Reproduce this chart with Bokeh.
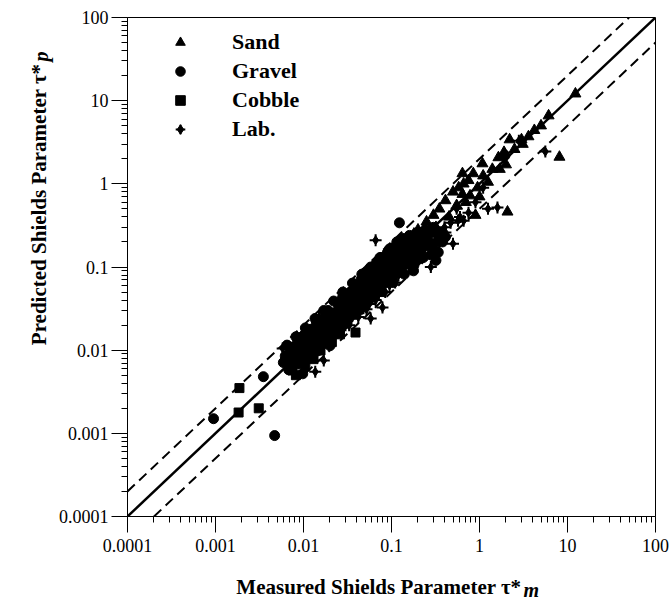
import math
from bokeh.plotting import figure
from bokeh.models import FixedTicker, CustomJSTickFormatter, Legend, LegendItem, Label
from bokeh.embed import file_html
from bokeh.resources import INLINE

# decade ticks shared by both log axes
tick_values = [0.0001, 0.001, 0.01, 0.1, 1, 10, 100]
axis_bounds = [0.0001, 100]

# Sand (triangles)
sand_x = [12.3, 6.1, 5.0, 8.1, 2.08, 0.9, 2.2, 3.0, 3.1, 1.64, 1.08, 0.64, 0.85, 1.1,
          0.66, 0.95, 0.64, 0.41, 1.0, 3.6, 2.5, 2.0, 1.4, 1.25, 0.78, 0.55, 0.5, 0.45,
          0.35, 0.3, 0.25, 0.2, 0.17, 0.15, 0.13, 0.11, 0.09, 0.075, 0.06, 0.05, 0.2,
          0.26, 0.7, 1.7, 4.2, 1.9, 0.12, 0.32, 0.045, 0.065, 0.085, 0.1, 0.14, 0.18,
          0.24, 0.58, 0.75]
sand_y = [12.1, 6.6, 5.0, 2.1, 0.46, 0.42, 3.4, 3.4, 3.0, 2.07, 1.75, 1.33, 1.33, 1.25,
          1.0, 0.9, 0.75, 0.63, 0.7, 3.7, 2.6, 1.7, 1.5, 1.05, 0.72, 0.55, 0.8, 0.4,
          0.5, 0.42, 0.35, 0.28, 0.22, 0.18, 0.16, 0.15, 0.12, 0.1, 0.08, 0.07, 0.16,
          0.25, 0.6, 1.5, 4.4, 2.4, 0.2, 0.3, 0.06, 0.09, 0.11, 0.14, 0.2, 0.25,
          0.3, 0.9, 1.1]

# Gravel (circles)
gravel_x = [0.00095, 0.0035, 0.0047, 0.0098, 0.0059, 0.123, 0.3, 0.32, 0.34, 0.33, 0.02,
            0.178, 0.36, 0.3, 0.29, 1.95,
            0.007, 0.0075, 0.008, 0.0085, 0.009, 0.0095, 0.010, 0.011, 0.012, 0.012,
            0.013, 0.014, 0.015, 0.016, 0.017, 0.018, 0.019, 0.021, 0.022, 0.023, 0.025,
            0.026, 0.028, 0.029, 0.030, 0.032, 0.034, 0.035, 0.037, 0.039, 0.040, 0.042,
            0.045, 0.046, 0.048, 0.050, 0.052, 0.055, 0.058, 0.060, 0.063, 0.067, 0.070,
            0.073, 0.077, 0.080, 0.085, 0.090, 0.095, 0.10, 0.105, 0.11, 0.115, 0.12,
            0.13, 0.135, 0.14, 0.15, 0.16, 0.17, 0.18, 0.19, 0.20, 0.21, 0.22, 0.24,
            0.25, 0.27, 0.28, 0.38, 0.41,
            0.0062, 0.0068, 0.0078, 0.0088, 0.0092, 0.0105, 0.0108, 0.0118, 0.0128, 0.0138,
            0.0145, 0.0155, 0.0165, 0.0175, 0.0185, 0.0195, 0.0205, 0.0215, 0.024, 0.0245,
            0.027, 0.0275, 0.031, 0.031, 0.033, 0.036, 0.038, 0.041, 0.043, 0.044, 0.047,
            0.049, 0.053, 0.054, 0.057, 0.061, 0.065, 0.069, 0.071, 0.075, 0.079, 0.083,
            0.087, 0.092, 0.097, 0.102, 0.108, 0.112, 0.118, 0.125, 0.128, 0.145, 0.155,
            0.165, 0.175, 0.185, 0.195, 0.23, 0.26, 0.29, 0.35, 0.31,
            0.0065, 0.0082, 0.0105, 0.0135, 0.017, 0.022, 0.028, 0.036, 0.046, 0.058,
            0.074, 0.095, 0.12, 0.105, 0.14, 0.18, 0.23]
gravel_y = [0.0015, 0.0048, 0.00094, 0.0052, 0.0071, 0.34, 0.30, 0.12, 0.15, 0.20, 0.0113,
            0.09, 0.26, 0.144, 0.29, 2.2,
            0.009, 0.0068, 0.011, 0.0075, 0.013, 0.0085, 0.015, 0.0095, 0.017, 0.011,
            0.014, 0.021, 0.012, 0.019, 0.024, 0.014, 0.030, 0.017, 0.028, 0.020, 0.035,
            0.023, 0.030, 0.045, 0.022, 0.037, 0.050, 0.028, 0.042, 0.060, 0.033, 0.048,
            0.070, 0.038, 0.055, 0.085, 0.043, 0.065, 0.090, 0.050, 0.075, 0.11, 0.058,
            0.085, 0.13, 0.065, 0.10, 0.15, 0.078, 0.12, 0.17, 0.09, 0.20, 0.14,
            0.10, 0.22, 0.17, 0.12, 0.24, 0.19, 0.14, 0.25, 0.20, 0.15, 0.26, 0.22,
            0.18, 0.27, 0.14, 0.20, 0.23,
            0.0085, 0.0058, 0.0105, 0.0068, 0.0115, 0.0078, 0.0125, 0.0088, 0.0105, 0.0175,
            0.0098, 0.0155, 0.0118, 0.0205, 0.0125, 0.0225, 0.0145, 0.0235, 0.016, 0.027,
            0.019, 0.036, 0.021, 0.041, 0.025, 0.052, 0.027, 0.058, 0.030, 0.052, 0.064,
            0.036, 0.075, 0.040, 0.058, 0.082, 0.047, 0.095, 0.068, 0.055, 0.10, 0.078,
            0.065, 0.125, 0.095, 0.070, 0.14, 0.11, 0.085, 0.18, 0.12, 0.15, 0.20,
            0.11, 0.22, 0.16, 0.12, 0.19, 0.21, 0.18, 0.22, 0.26,
            0.0115, 0.0145, 0.0185, 0.024, 0.030, 0.039, 0.050, 0.064, 0.082, 0.10,
            0.13, 0.165, 0.20, 0.065, 0.082, 0.105, 0.13]

# Cobble (squares)
cobble_x = [0.00187, 0.00183, 0.0031, 0.0075, 0.0156, 0.039,
            0.0065, 0.007, 0.0072, 0.008, 0.0085, 0.009, 0.0095, 0.010, 0.0105, 0.011,
            0.0115, 0.012, 0.0125, 0.013, 0.0135, 0.014, 0.015, 0.016, 0.017, 0.018,
            0.019, 0.020, 0.021, 0.022, 0.023, 0.025, 0.026, 0.027, 0.029, 0.030, 0.032,
            0.034, 0.036, 0.038, 0.040, 0.043, 0.046, 0.050, 0.055, 0.060, 0.068, 0.075,
            0.090,
            0.0068, 0.0078, 0.0088, 0.0098, 0.0108, 0.0118, 0.0128, 0.0142, 0.0152, 0.0168,
            0.0182, 0.0198, 0.0215, 0.024, 0.0265, 0.028, 0.031, 0.0335, 0.037, 0.041,
            0.045, 0.048, 0.052, 0.058,
            0.0082, 0.0105, 0.013, 0.021, 0.026]
cobble_y = [0.0035, 0.00178, 0.0020, 0.0057, 0.0099, 0.0163,
            0.0085, 0.011, 0.0075, 0.009, 0.012, 0.0078, 0.0105, 0.013, 0.009, 0.012,
            0.016, 0.0095, 0.013, 0.018, 0.011, 0.015, 0.020, 0.013, 0.017, 0.024,
            0.015, 0.019, 0.026, 0.016, 0.022, 0.030, 0.020, 0.025, 0.034, 0.026, 0.030,
            0.040, 0.028, 0.035, 0.045, 0.033, 0.042, 0.050, 0.040, 0.055, 0.060, 0.050,
            0.070,
            0.0068, 0.0082, 0.0098, 0.0088, 0.0112, 0.0138, 0.0118, 0.0128, 0.0172, 0.0152,
            0.0175, 0.022, 0.0205, 0.0255, 0.0235, 0.029, 0.035, 0.0315, 0.038, 0.040,
            0.048, 0.045, 0.058, 0.048,
            0.0050, 0.0064, 0.0078, 0.0125, 0.0155]

# Laboratory data (four-point stars)
lab_x = [5.6, 1.6, 1.25, 0.75, 0.66, 0.47, 0.066, 0.0136, 0.017, 0.0058, 0.079, 0.058,
         0.28, 0.5, 0.41, 0.57, 2.8,
         0.008, 0.010, 0.012, 0.014, 0.016, 0.018, 0.020, 0.022, 0.025, 0.028, 0.030,
         0.033, 0.036, 0.040, 0.044, 0.048, 0.052, 0.056, 0.062, 0.068, 0.072, 0.080,
         0.088, 0.095, 0.10, 0.11, 0.12, 0.13, 0.14, 0.16, 0.18, 0.20, 0.22, 0.25,
         0.30, 0.35, 0.40, 0.55, 0.60, 0.90, 1.1, 0.025, 0.045, 0.015, 0.0095,
         0.0115, 0.0185, 0.027, 0.035, 0.047, 0.065, 0.085, 0.105, 0.15, 0.19, 0.24, 0.33,
         0.033, 0.042, 0.052, 0.066, 0.085, 0.11]
lab_y = [2.44, 0.52, 0.50, 0.45, 0.36, 0.34, 0.21, 0.0055, 0.0075, 0.0105, 0.0325, 0.024,
         0.10, 0.19, 0.26, 0.36, 3.3,
         0.0065, 0.008, 0.0088, 0.012, 0.011, 0.016, 0.014, 0.020, 0.018, 0.025, 0.020,
         0.030, 0.026, 0.028, 0.040, 0.032, 0.050, 0.036, 0.045, 0.070, 0.048, 0.060,
         0.090, 0.060, 0.075, 0.11, 0.080, 0.095, 0.13, 0.10, 0.12, 0.16, 0.13, 0.22,
         0.17, 0.25, 0.30, 0.50, 0.40, 0.60, 0.90, 0.040, 0.065, 0.025, 0.014,
         0.0095, 0.0135, 0.021, 0.024, 0.037, 0.052, 0.065, 0.088, 0.115, 0.14, 0.17, 0.21,
         0.020, 0.025, 0.031, 0.040, 0.050, 0.065]

serif = "Liberation Serif"

# canvas layout (pixels)
W, H = 670, 601
LEFT, RIGHT, TOP, BOTTOM = 127, 15, 17, 85
FW, FH = W - LEFT - RIGHT, H - TOP - BOTTOM

p = figure(width=W, height=H, x_axis_type="log", y_axis_type="log",
           x_range=tuple(axis_bounds), y_range=tuple(axis_bounds),
           output_backend="svg", toolbar_location=None,
           min_border_left=LEFT, min_border_right=RIGHT,
           min_border_top=TOP, min_border_bottom=BOTTOM)
p.background_fill_color = "white"
p.border_fill_color = "white"
p.outline_line_color = "black"
p.outline_line_width = 1
p.grid.visible = False

minor = [m * 10.0 ** e for e in range(-4, 2) for m in range(2, 10)]
fmt = CustomJSTickFormatter(code="return tick.toString();")
for ax in (p.xaxis[0], p.yaxis[0]):
    ax.ticker = FixedTicker(ticks=tick_values, minor_ticks=minor)
    ax.formatter = fmt
    ax.major_tick_out = 16
    ax.major_tick_in = 0
    ax.minor_tick_out = 6
    ax.minor_tick_in = 0
    ax.axis_line_color = "black"
    ax.major_tick_line_color = "black"
    ax.minor_tick_line_color = "black"
    ax.major_label_text_font = serif
    ax.major_label_text_font_size = "18px"
    ax.major_label_text_color = "black"
    ax.axis_label = None
p.xaxis.major_label_standoff = 6
p.yaxis.major_label_standoff = 3

# 1:1 line and factor-of-two band
lo, hi = axis_bounds
p.line([lo, hi], [lo, hi], line_color="black", line_width=2.5)
p.line([lo, hi / 2], [2 * lo, hi], line_color="black", line_width=2, line_dash="10 6")
p.line([2 * lo, hi], [lo, hi / 2], line_color="black", line_width=2, line_dash="10 6")

r_sand = p.scatter(sand_x, sand_y, marker="triangle", size=11, color="black")
r_gravel = p.scatter(gravel_x, gravel_y, marker="circle", size=10, color="black")
r_cobble = p.scatter(cobble_x, cobble_y, marker="square", size=9, color="black")
r_lab_d = p.scatter(lab_x, lab_y, marker="diamond", size=9, color="black")
r_lab_c = p.scatter(lab_x, lab_y, marker="cross", size=12, line_color="black", line_width=2)

legend = Legend(items=[
    LegendItem(label="Sand", renderers=[r_sand]),
    LegendItem(label="Gravel", renderers=[r_gravel]),
    LegendItem(label="Cobble", renderers=[r_cobble]),
    LegendItem(label="Lab.", renderers=[r_lab_d, r_lab_c]),
], location="top_left")
legend.margin = 0
legend.padding = 12
legend.glyph_width = 82
legend.glyph_height = 24
legend.label_height = 24
legend.spacing = 3
legend.label_standoff = 11
legend.border_line_alpha = 0
legend.background_fill_alpha = 0
legend.label_text_font = serif
legend.label_text_font_style = "bold"
legend.label_text_font_size = "22px"
legend.label_text_color = "black"
p.add_layout(legend)


def at(px, py):
    """Data coordinates of a canvas pixel, through the log axes."""
    l0, l1 = math.log10(lo), math.log10(hi)
    lx = l0 + (px - LEFT) / FW * (l1 - l0)
    ly = l0 + (TOP + FH - py) / FH * (l1 - l0)
    return 10 ** lx, 10 ** ly


def title_label(text, px, py, align, style, size, angle=0.0):
    x, y = at(px, py)
    return Label(x=x, y=y, text=text, text_align=align, text_baseline="alphabetic",
                 text_font=serif, text_font_style=style, text_font_size=size,
                 text_color="black", angle=angle)


# axis titles, with the italic subscript drawn as its own label
p.add_layout(title_label("Measured Shields Parameter \u03c4*", 521, 586, "right", "bold", "21px"), "below")
p.add_layout(title_label("p", 40, 61, "left", "bold italic", "20px", math.pi / 2), "below")
p.add_layout(title_label("Predicted Shields Parameter \u03c4*", 38, 63, "right", "bold", "21px", math.pi / 2), "left")
p.add_layout(title_label("m", 523, 589, "left", "bold italic", "20px"), "left")

open("out.html", "w").write(file_html(p, INLINE))
